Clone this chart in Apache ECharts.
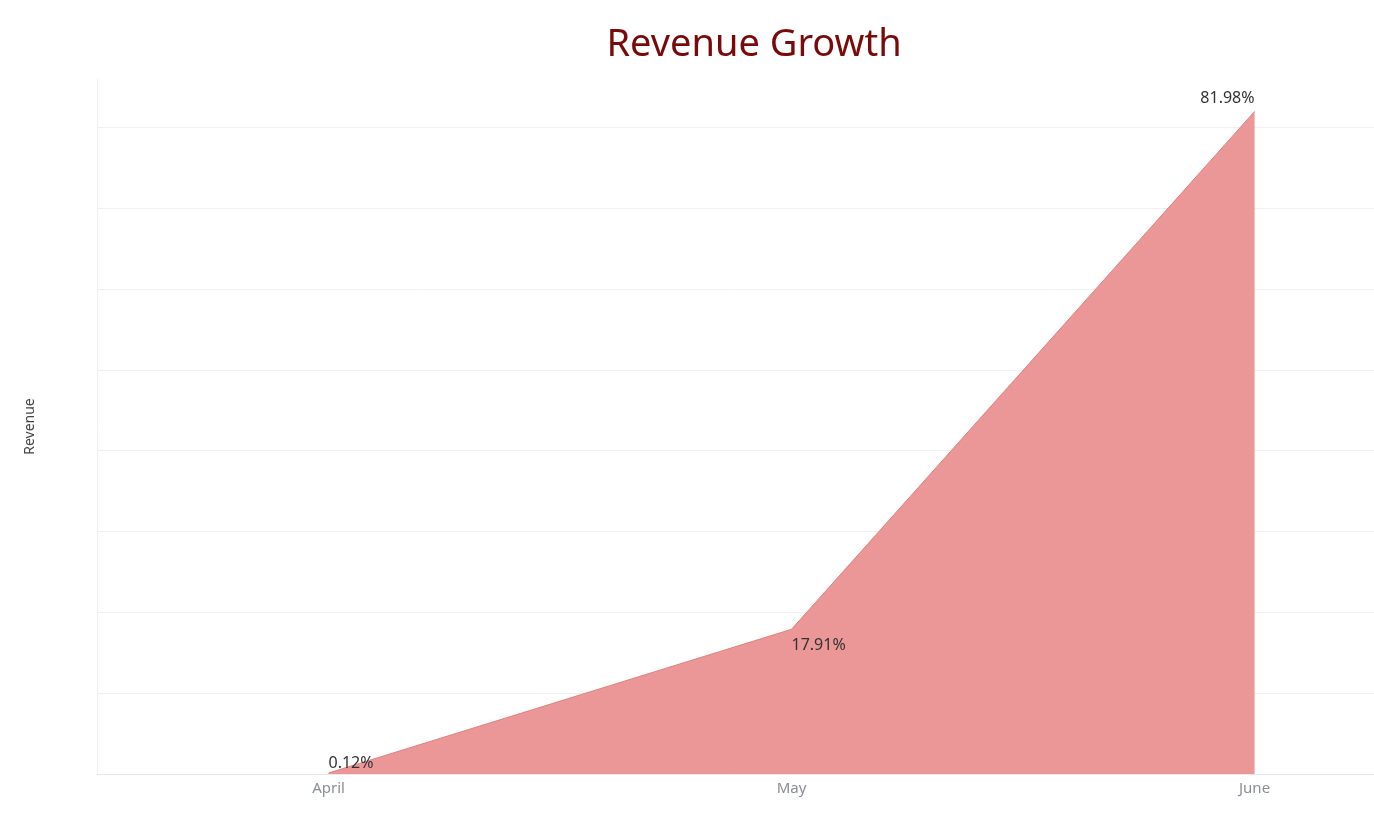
<!DOCTYPE html>
<html>
<head>
<meta charset="utf-8">
<script src="https://cdn.jsdelivr.net/npm/echarts@6/dist/echarts.min.js"></script>
<style>
  html, body { margin: 0; padding: 0; background: #fff; }
  #chart { width: 1374px; height: 814px; }
</style>
</head>
<body>
<div id="chart"></div>
<script>
var months = ['April', 'May', 'June'];
var growth = [0.12, 17.91, 81.98];
// label placement per point: [position, align, distance]
var labelPos = [['top', 'left', 1], ['bottom', 'left', 7], ['top', 'right', 4]];

// x is the month index; the plot is cut off at the right edge
var points = growth.map(function(v, i) {
  return {
    value: [i, v],
    label: {
      position: labelPos[i][0],
      align: labelPos[i][1],
      distance: labelPos[i][2]
    }
  };
});

// 9 visible split lines (0..80), hide the one at max
var splitColors = [];
for (var i = 0; i < 9; i++) splitColors.push('#f0f0f0');
splitColors.push('rgba(0,0,0,0)');

echarts.init(document.getElementById('chart')).setOption({
  backgroundColor: '#ffffff',
  title: {
    text: 'Revenue Growth',
    left: 749,
    textAlign: 'center',
    top: 21,
    textStyle: {
      fontFamily: 'Noto Sans',
      fontSize: 38,
      fontWeight: 'normal',
      color: '#7a0a0a'
    }
  },
  grid: {
    left: 97,
    top: 79,
    right: 0,
    bottom: 40
  },
  xAxis: {
    type: 'value',
    min: -0.5,
    max: 2.258,
    axisLine: { show: true, lineStyle: { color: '#e8e8e8' } },
    axisTick: { show: false },
    splitLine: { show: false },
    axisLabel: {
      customValues: [0, 1, 2],
      formatter: function(v) { return months[Math.round(v)]; },
      color: '#8a8f96',
      fontSize: 15,
      fontFamily: 'Noto Sans',
      margin: 7
    }
  },
  yAxis: {
    type: 'value',
    min: 0,
    max: 86,
    interval: 10,
    name: 'Revenue',
    nameLocation: 'middle',
    nameRotate: 90,
    nameGap: 60,
    nameTextStyle: {
      color: '#444',
      fontSize: 14,
      fontFamily: 'Noto Sans'
    },
    axisLine: { show: true, onZero: false, lineStyle: { color: '#f0f0f0' } },
    axisTick: { show: false },
    axisLabel: { show: false },
    splitLine: { lineStyle: { color: splitColors } }
  },
  series: [{
    type: 'line',
    data: points,
    symbol: 'circle',
    symbolSize: 2,
    showSymbol: true,
    itemStyle: { color: 'rgba(0,0,0,0)' },
    lineStyle: { color: '#e37f80', width: 1 },
    areaStyle: { color: '#eb9697', opacity: 1 },
    label: {
      show: true,
      color: '#333',
      fontSize: 16,
      fontFamily: 'Noto Sans',
      formatter: function(p) { return p.value[1].toFixed(2) + '%'; }
    }
  }]
});
</script>
</body>
</html>
